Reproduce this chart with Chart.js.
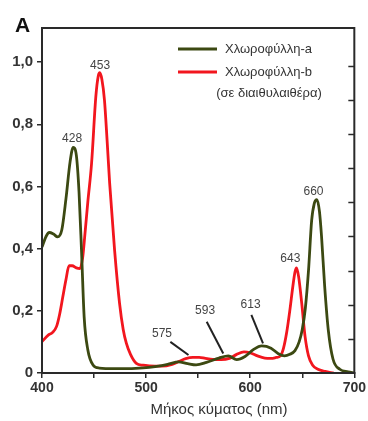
<!DOCTYPE html>
<html>
<head>
<meta charset="utf-8">
<script src="https://cdn.jsdelivr.net/npm/chart.js@4/dist/chart.umd.min.js"></script>
<style>
  html, body { margin: 0; padding: 0; background: #ffffff; }
  #wrap { width: 368px; height: 421px; position: relative; }
</style>
</head>
<body>
<div id="wrap"><canvas id="c"></canvas></div>
<script>
// ---- Data ----
const chlAWavelengths = [400, 404, 407, 411, 415, 419, 423, 427, 430, 433, 435.6, 438, 440.5, 444, 449, 455, 470, 490, 503, 515, 522, 531, 540, 548, 558, 570, 579, 587, 595, 603, 611, 620, 627, 633, 638, 643, 647, 650, 653, 656, 659, 661.5, 664, 666.5, 668.5, 671.5, 675, 679.5, 686, 694, 700];
const chlAValues      = [0.405, 0.44, 0.452, 0.447, 0.438, 0.46, 0.56, 0.68, 0.726, 0.70, 0.58, 0.39, 0.18, 0.075, 0.026, 0.016, 0.014, 0.015, 0.018, 0.024, 0.029, 0.036, 0.030, 0.026, 0.034, 0.048, 0.055, 0.043, 0.053, 0.075, 0.087, 0.080, 0.062, 0.055, 0.060, 0.072, 0.10, 0.14, 0.21, 0.33, 0.49, 0.545, 0.558, 0.52, 0.44, 0.28, 0.138, 0.045, 0.012, 0.004, 0.0];

const chlBWavelengths = [400, 406, 410, 414, 417, 420, 423, 426, 429, 433, 436.5, 439, 441, 444, 447.6, 451.7, 454, 455.5, 457.5, 460, 462.5, 465, 469.7, 474.5, 478, 481, 485, 490.6, 497, 503, 515, 525, 532, 538, 545, 551, 557, 564, 572, 580, 587, 594, 600, 607, 614, 620, 625, 629, 632, 635, 638, 641, 643, 644.5, 646.5, 649.5, 652.7, 656, 660, 665, 672, 680];
const chlBValues      = [0.101, 0.122, 0.13, 0.15, 0.19, 0.245, 0.30, 0.345, 0.345, 0.338, 0.336, 0.37, 0.438, 0.55, 0.674, 0.889, 0.955, 0.966, 0.945, 0.878, 0.75, 0.61, 0.396, 0.224, 0.14, 0.096, 0.06, 0.031, 0.025, 0.023, 0.022, 0.028, 0.038, 0.046, 0.050, 0.050, 0.047, 0.044, 0.043, 0.047, 0.060, 0.068, 0.065, 0.055, 0.048, 0.047, 0.050, 0.055, 0.08, 0.13, 0.20, 0.28, 0.325, 0.338, 0.31, 0.224, 0.117, 0.055, 0.025, 0.012, 0.005, 0.0];

const seriesLabels = ['Χλωροφύλλη-a', 'Χλωροφύλλη-b'];
const legendNote = '(σε διαιθυλαιθέρα)';
const xAxisTitle = 'Μήκος κύματος (nm)';
const panelLetter = 'A';

// Y tick labels (value -> text)
const yTickValues = [0, 0.2, 0.4, 0.6, 0.8, 1.0];
const yTickTexts  = ['0', '0,2', '0,4', '0,6', '0,8', '1,0'];
const xTickValues = [400, 500, 600, 700];

// Peak annotations: text, anchor in data coords
const peakTexts = ['453', '428', '660', '643', '575', '593', '613'];
const peakNm    = [455.8, 428.9, 660.8, 638.5, 515.3, 556.7, 600.4];
const peakAbs   = [0.99, 0.755, 0.583, 0.369, 0.127, 0.20, 0.219];
// Leader lines (for 575, 593, 613): from/to in data coords
const leaderFromNm  = [523.3, 558.2, 601.1];
const leaderFromAbs = [0.100, 0.165, 0.187];
const leaderToNm    = [540.7, 574.1, 612.3];
const leaderToAbs   = [0.058, 0.063, 0.095];

const GREEN = '#3c4912';
const RED = '#f2161e';
const INK = '#2a2a2a';

function toPoints(xs, ys) { return xs.map((x, i) => ({ x: x, y: ys[i] })); }

const decorPlugin = {
  id: 'decor',
  afterDraw(chart) {
    const ctx = chart.ctx;
    const a = chart.chartArea;
    const xs = chart.scales.x, ys = chart.scales.y, y2 = chart.scales.y2;
    ctx.save();
    // frame
    ctx.strokeStyle = INK;
    ctx.lineWidth = 2;
    ctx.strokeRect(a.left, a.top, a.right - a.left, a.bottom - a.top);
    // right inward ticks
    ctx.lineWidth = 1.5;
    y2.ticks.forEach(t => {
      if (t.value <= 0 || t.value >= 10) return;
      const py = Math.round(y2.getPixelForValue(t.value)) + 0.5;
      ctx.beginPath();
      ctx.moveTo(a.right, py);
      ctx.lineTo(a.right - 6, py);
      ctx.stroke();
    });
    // peak labels
    ctx.fillStyle = '#444';
    ctx.font = '12px "Liberation Sans", Arial, sans-serif';
    ctx.textAlign = 'center';
    ctx.textBaseline = 'middle';
    peakTexts.forEach((t, i) => {
      ctx.fillText(t, xs.getPixelForValue(peakNm[i]), ys.getPixelForValue(peakAbs[i]));
    });
    // leader lines
    ctx.strokeStyle = '#222';
    ctx.lineWidth = 2;
    leaderFromNm.forEach((v, i) => {
      ctx.beginPath();
      ctx.moveTo(xs.getPixelForValue(v), ys.getPixelForValue(leaderFromAbs[i]));
      ctx.lineTo(xs.getPixelForValue(leaderToNm[i]), ys.getPixelForValue(leaderToAbs[i]));
      ctx.stroke();
    });
    // legend
    const ds = chart.data.datasets;
    const legX0 = 178, legX1 = 217, legY = [49, 72];
    ctx.font = '13px "Liberation Sans", Arial, sans-serif';
    ctx.textAlign = 'left';
    ds.forEach((d, i) => {
      ctx.strokeStyle = d.borderColor;
      ctx.lineWidth = 3;
      ctx.beginPath();
      ctx.moveTo(legX0, legY[i]);
      ctx.lineTo(legX1, legY[i]);
      ctx.stroke();
      ctx.fillStyle = '#333';
      ctx.fillText(d.label, 225, legY[i]);
    });
    ctx.textAlign = 'center';
    ctx.fillText(legendNote, 269, 93);
    // x axis title
    ctx.font = '15px "Liberation Sans", Arial, sans-serif';
    ctx.fillStyle = '#333';
    ctx.fillText(xAxisTitle, 219, 410);
    // panel letter
    ctx.font = 'bold 21px "Liberation Sans", Arial, sans-serif';
    ctx.fillStyle = '#111';
    ctx.textAlign = 'left';
    ctx.textBaseline = 'alphabetic';
    ctx.fillText(panelLetter, 15, 32);
    ctx.restore();
  }
};

const xTickFont = { family: '"Liberation Sans", Arial, sans-serif', size: 14, weight: 'bold' };
const yTickFont = { family: '"Liberation Sans", Arial, sans-serif', size: 15, weight: 'bold' };

new Chart(document.getElementById('c'), {
  type: 'line',
  data: {
    datasets: [
      { label: seriesLabels[0], data: toPoints(chlAWavelengths, chlAValues), borderColor: GREEN, borderWidth: 2.8, pointRadius: 0, cubicInterpolationMode: 'monotone', fill: false },
      { label: seriesLabels[1], data: toPoints(chlBWavelengths, chlBValues), borderColor: RED, borderWidth: 2.8, pointRadius: 0, cubicInterpolationMode: 'monotone', fill: false }
    ]
  },
  options: {
    responsive: true,
    maintainAspectRatio: false,
    animation: false,
    layout: { padding: { top: 28, left: 0, right: 0, bottom: 0 } },
    plugins: { legend: { display: false }, tooltip: { enabled: false }, title: { display: false } },
    scales: {
      x: {
        type: 'linear', min: 400, max: 700,
        afterFit: s => { s.height = 48; },
        ticks: {
          stepSize: 50, autoSkip: false, maxRotation: 0, padding: 2,
          color: '#333', font: xTickFont,
          callback: v => (xTickValues.includes(v) ? String(v) : '')
        },
        grid: { drawOnChartArea: false, drawTicks: true, tickLength: 5, color: INK, lineWidth: 1.5 },
        border: { display: true, color: INK, width: 2 }
      },
      y: {
        type: 'linear', min: 0, max: 1.11, position: 'left',
        afterFit: s => { s.width = 42; },
        afterBuildTicks: s => { s.ticks = s.ticks.filter(t => yTickValues.some(v => Math.abs(v - t.value) < 1e-6)); },
        ticks: {
          stepSize: 0.2, padding: 4, color: '#333', font: yTickFont,
          callback: v => { const i = yTickValues.findIndex(u => Math.abs(u - v) < 1e-6); return i >= 0 ? yTickTexts[i] : ''; }
        },
        grid: { drawOnChartArea: false, drawTicks: true, tickLength: 5, color: INK, lineWidth: 1.5 },
        border: { display: true, color: INK, width: 2 }
      },
      y2: {
        type: 'linear', min: 0, max: 10.1, position: 'right',
        afterFit: s => { s.width = 12; },
        ticks: { stepSize: 1, display: false },
        grid: { display: false },
        border: { display: false }
      }
    }
  },
  plugins: [decorPlugin]
});
</script>
</body>
</html>
